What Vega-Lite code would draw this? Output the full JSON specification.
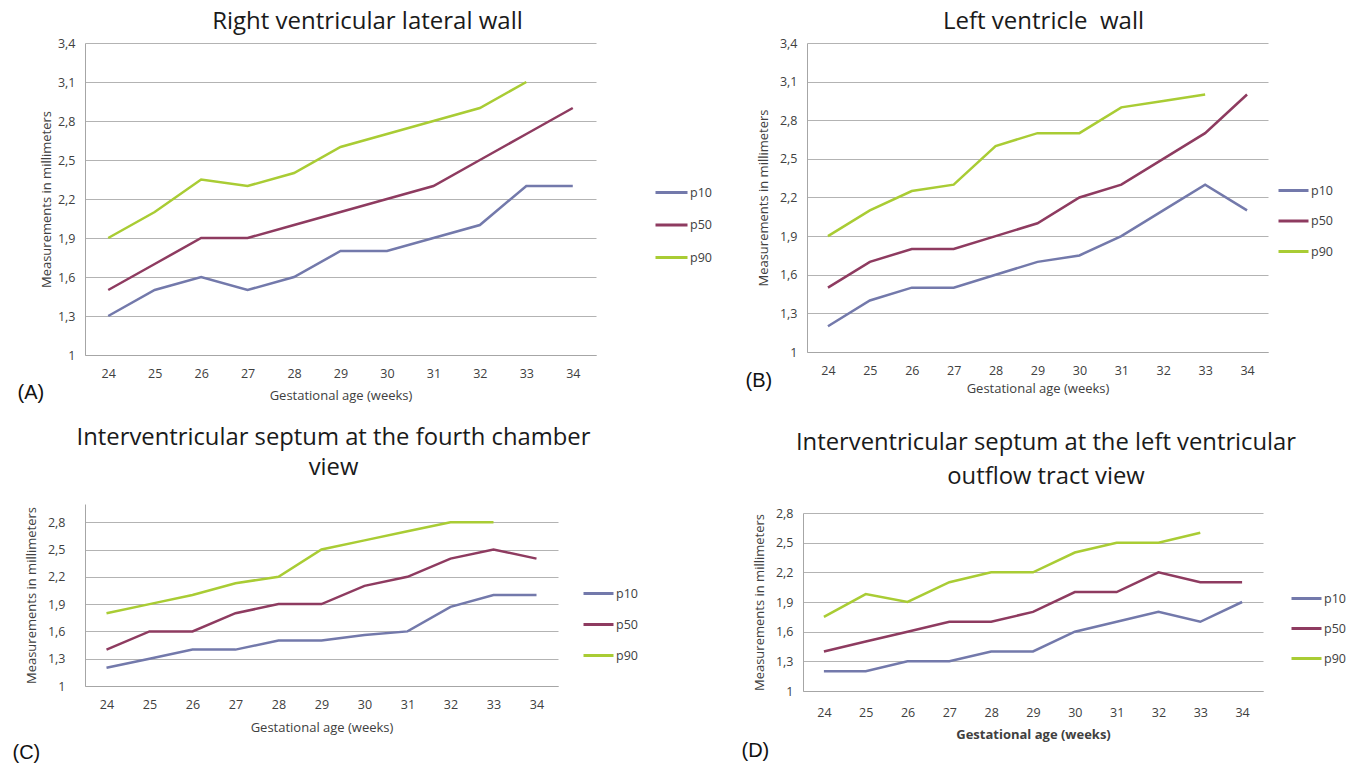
{
  "$schema": "https://vega.github.io/schema/vega-lite/v6.json",
  "background": "white",
  "padding": {"left": 12, "top": 10, "right": 0, "bottom": 0},
  "spacing": 23,
  "data": {"values": [
    {"p":"A","w":24,"p10":1.3,"p50":1.5,"p90":1.9},
    {"p":"A","w":25,"p10":1.5,"p50":1.7,"p90":2.1},
    {"p":"A","w":26,"p10":1.6,"p50":1.9,"p90":2.35},
    {"p":"A","w":27,"p10":1.5,"p50":1.9,"p90":2.3},
    {"p":"A","w":28,"p10":1.6,"p50":2.0,"p90":2.4},
    {"p":"A","w":29,"p10":1.8,"p50":2.1,"p90":2.6},
    {"p":"A","w":30,"p10":1.8,"p50":2.2,"p90":2.7},
    {"p":"A","w":31,"p10":1.9,"p50":2.3,"p90":2.8},
    {"p":"A","w":32,"p10":2.0,"p50":2.5,"p90":2.9},
    {"p":"A","w":33,"p10":2.3,"p50":2.7,"p90":3.1},
    {"p":"A","w":34,"p10":2.3,"p50":2.9,"p90":null},
    {"p":"B","w":24,"p10":1.2,"p50":1.5,"p90":1.9},
    {"p":"B","w":25,"p10":1.4,"p50":1.7,"p90":2.1},
    {"p":"B","w":26,"p10":1.5,"p50":1.8,"p90":2.25},
    {"p":"B","w":27,"p10":1.5,"p50":1.8,"p90":2.3},
    {"p":"B","w":28,"p10":1.6,"p50":1.9,"p90":2.6},
    {"p":"B","w":29,"p10":1.7,"p50":2.0,"p90":2.7},
    {"p":"B","w":30,"p10":1.75,"p50":2.2,"p90":2.7},
    {"p":"B","w":31,"p10":1.9,"p50":2.3,"p90":2.9},
    {"p":"B","w":32,"p10":2.1,"p50":2.5,"p90":2.95},
    {"p":"B","w":33,"p10":2.3,"p50":2.7,"p90":3.0},
    {"p":"B","w":34,"p10":2.1,"p50":3.0,"p90":null},
    {"p":"C","w":24,"p10":1.2,"p50":1.4,"p90":1.8},
    {"p":"C","w":25,"p10":1.3,"p50":1.6,"p90":1.9},
    {"p":"C","w":26,"p10":1.4,"p50":1.6,"p90":2.0},
    {"p":"C","w":27,"p10":1.4,"p50":1.8,"p90":2.13},
    {"p":"C","w":28,"p10":1.5,"p50":1.9,"p90":2.2},
    {"p":"C","w":29,"p10":1.5,"p50":1.9,"p90":2.5},
    {"p":"C","w":30,"p10":1.56,"p50":2.1,"p90":2.6},
    {"p":"C","w":31,"p10":1.6,"p50":2.2,"p90":2.7},
    {"p":"C","w":32,"p10":1.87,"p50":2.4,"p90":2.8},
    {"p":"C","w":33,"p10":2.0,"p50":2.5,"p90":2.8},
    {"p":"C","w":34,"p10":2.0,"p50":2.4,"p90":null},
    {"p":"D","w":24,"p10":1.2,"p50":1.4,"p90":1.75},
    {"p":"D","w":25,"p10":1.2,"p50":1.5,"p90":1.98},
    {"p":"D","w":26,"p10":1.3,"p50":1.6,"p90":1.9},
    {"p":"D","w":27,"p10":1.3,"p50":1.7,"p90":2.1},
    {"p":"D","w":28,"p10":1.4,"p50":1.7,"p90":2.2},
    {"p":"D","w":29,"p10":1.4,"p50":1.8,"p90":2.2},
    {"p":"D","w":30,"p10":1.6,"p50":2.0,"p90":2.4},
    {"p":"D","w":31,"p10":1.7,"p50":2.0,"p90":2.5},
    {"p":"D","w":32,"p10":1.8,"p50":2.2,"p90":2.5},
    {"p":"D","w":33,"p10":1.7,"p50":2.1,"p90":2.6},
    {"p":"D","w":34,"p10":1.9,"p50":2.1,"p90":null}
  ]},
  "resolve": {"scale": {"color": "independent", "x": "independent", "y": "independent"}, "legend": {"color": "independent"}},
  "vconcat": [
    {
      "spacing": 33,
      "resolve": {"scale": {"color": "independent", "x": "independent", "y": "independent"}, "legend": {"color": "independent"}},
      "hconcat": [
        {
          "title": {"text": "(A)", "orient": "bottom", "anchor": "start", "font": "Liberation Sans", "fontSize": 20, "color": "#111111", "dx": -23, "offset": -20},
          "resolve": {"scale": {"color": "independent", "x": "independent", "y": "independent"}, "legend": {"color": "independent"}},
          "vconcat": [
            {
              "title": {"text": "Right ventricular lateral wall", "offset": 3, "dx": 27},
              "width": 511, "height": 312,
              "transform": [{"filter": "datum.p == 'A'"}, {"fold": ["p10", "p50", "p90"], "as": ["s", "v"]}, {"filter": "isValid(datum.v)"}],
              "mark": {"type": "line", "strokeWidth": 2.5},
              "encoding": {
                "x": {"field": "w", "type": "ordinal", "scale": {"type": "point", "padding": 0.5}, "axis": {"title": "Gestational age (weeks)", "titlePadding": 10}},
                "y": {"field": "v", "type": "quantitative", "scale": {"domain": [1, 3.4], "nice": false, "zero": false}, "axis": {"values": [1, 1.3, 1.6, 1.9, 2.2, 2.5, 2.8, 3.1, 3.4], "title": "Measurements in millimeters", "titlePadding": 4}},
                "color": {"field": "s", "type": "nominal", "scale": {"domain": ["p10", "p50", "p90"], "range": ["#7379ab", "#8e3b60", "#a9cc34"]}, "legend": {"legendX": 569, "legendY": 132, "symbolSize": 1024, "labelOffset": 1, "rowPadding": 8.5}}
              }
            }
          ]
        },
        {
          "title": {"text": "(B)", "orient": "bottom", "anchor": "start", "font": "Liberation Sans", "fontSize": 20, "color": "#111111", "dx": -12, "offset": -25},
          "resolve": {"scale": {"color": "independent", "x": "independent", "y": "independent"}, "legend": {"color": "independent"}},
          "vconcat": [
            {
              "title": {"text": "Left ventricle\u00a0 wall", "offset": 3, "dx": 6},
              "width": 461, "height": 309,
              "transform": [{"filter": "datum.p == 'B'"}, {"fold": ["p10", "p50", "p90"], "as": ["s", "v"]}, {"filter": "isValid(datum.v)"}],
              "mark": {"type": "line", "strokeWidth": 2.5},
              "encoding": {
                "x": {"field": "w", "type": "ordinal", "scale": {"type": "point", "padding": 0.5}, "axis": {"title": "Gestational age (weeks)"}},
                "y": {"field": "v", "type": "quantitative", "scale": {"domain": [1, 3.4], "nice": false, "zero": false}, "axis": {"values": [1, 1.3, 1.6, 1.9, 2.2, 2.5, 2.8, 3.1, 3.4], "title": "Measurements in millimeters"}},
                "color": {"field": "s", "type": "nominal", "scale": {"domain": ["p10", "p50", "p90"], "range": ["#7379ab", "#8e3b60", "#a9cc34"]}, "legend": {"legendX": 470, "legendY": 131, "rowPadding": 7.5}}
              }
            }
          ]
        }
      ]
    },
    {
      "spacing": 103,
      "resolve": {"scale": {"color": "independent", "x": "independent", "y": "independent"}, "legend": {"color": "independent"}},
      "hconcat": [
        {
          "title": {"text": "(C)", "orient": "bottom", "anchor": "start", "font": "Liberation Sans", "fontSize": 20, "color": "#111111", "dx": -13, "offset": 8},
          "resolve": {"scale": {"color": "independent", "x": "independent", "y": "independent"}, "legend": {"color": "independent"}},
          "vconcat": [
            {
              "title": {"text": ["Interventricular septum at the fourth chamber", "view"], "fontSize": 23.8, "lineHeight": 30, "offset": 24, "dx": 12},
              "width": 473, "height": 182,
              "transform": [{"filter": "datum.p == 'C'"}, {"fold": ["p10", "p50", "p90"], "as": ["s", "v"]}, {"filter": "isValid(datum.v)"}],
              "mark": {"type": "line", "strokeWidth": 2.5},
              "encoding": {
                "x": {"field": "w", "type": "ordinal", "scale": {"type": "point", "padding": 0.5}, "axis": {"title": "Gestational age (weeks)", "titlePadding": 11}},
                "y": {"field": "v", "type": "quantitative", "scale": {"domain": [1, 3.0], "nice": false, "zero": false}, "axis": {"values": [1, 1.3, 1.6, 1.9, 2.2, 2.5, 2.8], "title": "Measurements in millimeters", "labelPadding": 20}},
                "color": {"field": "s", "type": "nominal", "scale": {"domain": ["p10", "p50", "p90"], "range": ["#7379ab", "#8e3b60", "#a9cc34"]}, "legend": {"legendX": 497, "legendY": 73, "rowPadding": 8}}
              }
            }
          ]
        },
        {
          "title": {"text": "(D)", "orient": "bottom", "anchor": "start", "font": "Liberation Sans", "fontSize": 20, "color": "#111111", "dx": -12, "offset": -1},
          "resolve": {"scale": {"color": "independent", "x": "independent", "y": "independent"}, "legend": {"color": "independent"}},
          "vconcat": [
            {
              "title": {"text": ["Interventricular septum at the left ventricular", "outflow tract view"], "fontSize": 23.8, "lineHeight": 34, "offset": 15, "dx": 13},
              "width": 460, "height": 187,
              "transform": [{"filter": "datum.p == 'D'"}, {"fold": ["p10", "p50", "p90"], "as": ["s", "v"]}, {"filter": "isValid(datum.v)"}],
              "mark": {"type": "line", "strokeWidth": 2.5},
              "encoding": {
                "x": {"field": "w", "type": "ordinal", "scale": {"type": "point", "padding": 0.5}, "axis": {"title": "Gestational age (weeks)", "titleFontWeight": "bold", "labelPadding": 15, "titlePadding": 10}},
                "y": {"field": "v", "type": "quantitative", "scale": {"domain": [1, 2.8], "nice": false, "zero": false, "range": [187, 9]}, "axis": {"values": [1, 1.3, 1.6, 1.9, 2.2, 2.5, 2.8], "title": "Measurements in millimeters"}},
                "color": {"field": "s", "type": "nominal", "scale": {"domain": ["p10", "p50", "p90"], "range": ["#7379ab", "#8e3b60", "#a9cc34"]}, "legend": {"legendX": 487, "legendY": 78, "rowPadding": 7}}
              }
            }
          ]
        }
      ]
    }
  ],
  "config": {
    "view": {"stroke": null},
    "title": {"font": "Open Sans", "fontSize": 24, "fontWeight": "normal", "color": "#1a1a1a"},
    "axis": {"labelFont": "Open Sans", "labelFontSize": 12.5, "labelColor": "#404040", "titleFont": "Open Sans", "titleFontSize": 13, "titleFontWeight": "normal", "titleColor": "#404040", "domainColor": "#a6a6a6", "gridColor": "#b3b3b3", "ticks": false},
    "axisX": {"grid": false, "labelAngle": 0, "labelPadding": 12, "titlePadding": 6},
    "axisY": {"grid": true, "labelPadding": 10, "titlePadding": 9, "labelExpr": "datum.value < 1.01 ? '1' : replace(format(datum.value, '.1f'), '.', ',')"},
    "legend": {"orient": "none", "title": null, "symbolType": "stroke", "symbolSize": 900, "symbolStrokeWidth": 3, "labelFont": "Open Sans", "labelFontSize": 12.5, "labelColor": "#404040", "labelOffset": 1, "rowPadding": 9, "padding": 0}
  }
}
